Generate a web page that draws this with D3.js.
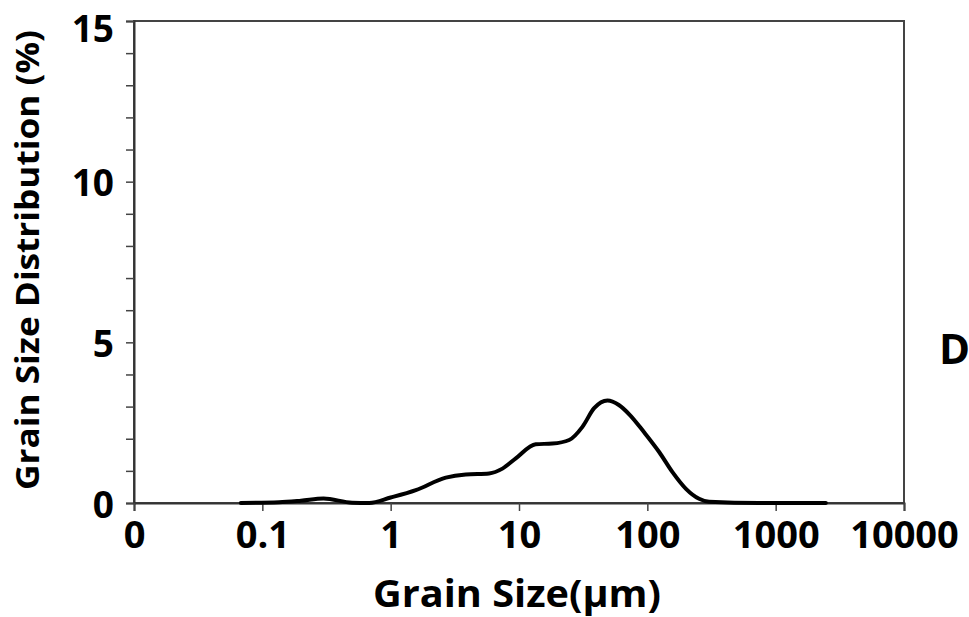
<!DOCTYPE html>
<html>
<head>
<meta charset="utf-8">
<script src="https://cdn.jsdelivr.net/npm/d3@7"></script>
<style>
  body { margin: 0; background: #fff; }
  text { font-family: 'Open Sans', 'Noto Sans', sans-serif; font-weight: bold; fill: #000; }
</style>
</head>
<body>
<div id="chart"></div>
<script>
// grain size (um) and distribution (%)
const grainSize = [0.068, 0.135, 0.2, 0.3, 0.5, 0.68, 1.0, 1.57, 2.69, 3.85, 5.85, 7.43, 9.44, 13.5, 18.2, 24.6, 31.2, 38.5, 48.9, 60, 73.5, 94.4, 124, 157, 200, 253, 303, 744, 2460]
const distribution = [0, 0.02, 0.07, 0.14, 0.01, 0, 0.17, 0.4, 0.79, 0.89, 0.92, 1.07, 1.39, 1.83, 1.85, 1.96, 2.37, 2.95, 3.19, 3.05, 2.73, 2.2, 1.58, 0.96, 0.44, 0.13, 0.04, 0, 0]

const xTicks = [0.01, 0.1, 1, 10, 100, 1000, 10000]
const xTickLabels = ['0', '0.1', '1', '10', '100', '1000', '10000']
const yMajor = [0, 5, 10, 15]
const yMinor = d3.range(0, 16)

const width = 969
const height = 617
const margin = { top: 21, left: 134, right: 65, bottom: 114 }

const svg = d3
  .select('#chart')
  .append('svg')
  .attr('width', width)
  .attr('height', height)

const x = d3
  .scaleLog()
  .domain([0.01, 10000])
  .range([margin.left, width - margin.right])

const y = d3
  .scaleLinear()
  .domain([0, 15])
  .range([height - margin.bottom, margin.top])

// box
svg
  .append('rect')
  .attr('x', x(0.01))
  .attr('y', y(15))
  .attr('width', x(10000) - x(0.01))
  .attr('height', y(0) - y(15))
  .attr('fill', 'none')
  .attr('stroke', '#444')
  .attr('stroke-width', 2)

// y axis: minor ticks every unit, labels at majors
const yAxis = svg
  .append('g')
  .attr('transform', `translate(${x(0.01)},0)`)
  .call(
    d3.axisLeft(y)
      .tickValues(yMinor)
      .tickSize(8)
      .tickFormat(d => (yMajor.includes(d) ? d : ''))
  )
yAxis.select('.domain').attr('stroke', '#333').attr('stroke-width', 2)
yAxis.selectAll('.tick line').attr('stroke', '#444').attr('stroke-width', 1.5)
yAxis
  .selectAll('.tick text')
  .attr('x', -20)
  .attr('dy', d => (d === 15 ? '0.55em' : '0.38em'))
  .style('font-size', '37px')
  .style('font-family', "'Open Sans', sans-serif")
  .style('font-weight', 'bold')
  .attr('fill', '#000')

// x axis
const xAxis = svg
  .append('g')
  .attr('transform', `translate(0,${y(0)})`)
  .call(
    d3.axisBottom(x)
      .tickValues(xTicks)
      .tickSize(8)
      .tickFormat((d, i) => xTickLabels[i])
  )
xAxis.select('.domain').attr('stroke', '#333').attr('stroke-width', 2)
xAxis.selectAll('.tick line').attr('stroke', '#444').attr('stroke-width', 1.5)
xAxis
  .selectAll('.tick text')
  .attr('y', 45)
  .attr('dy', 0)
  .style('font-size', '38px')
  .style('font-family', "'Open Sans', sans-serif")
  .style('font-weight', 'bold')
  .attr('fill', '#000')

// curve
const line = d3
  .line()
  .x(d => x(d[0]))
  .y(d => y(d[1]))
  .curve(d3.curveMonotoneX)

svg
  .append('path')
  .datum(grainSize.map((g, i) => [g, distribution[i]]))
  .attr('d', line)
  .attr('fill', 'none')
  .attr('stroke', '#000')
  .attr('stroke-width', 4)
  .attr('stroke-linejoin', 'round')
  .attr('stroke-linecap', 'round')

// titles
svg
  .append('text')
  .attr('x', 517)
  .attr('y', 607)
  .attr('text-anchor', 'middle')
  .attr('textLength', 288)
  .attr('lengthAdjust', 'spacingAndGlyphs')
  .style('font-size', '38px')
  .text('Grain Size(µm)')

svg
  .append('text')
  .attr('transform', 'translate(39,260) rotate(-90)')
  .attr('text-anchor', 'middle')
  .attr('textLength', 460)
  .attr('lengthAdjust', 'spacingAndGlyphs')
  .style('font-size', '33px')
  .text('Grain Size Distribution (%)')

svg
  .append('text')
  .attr('x', 939)
  .attr('y', 364)
  .style('font-size', '42px')
  .text('D')
</script>
</body>
</html>
